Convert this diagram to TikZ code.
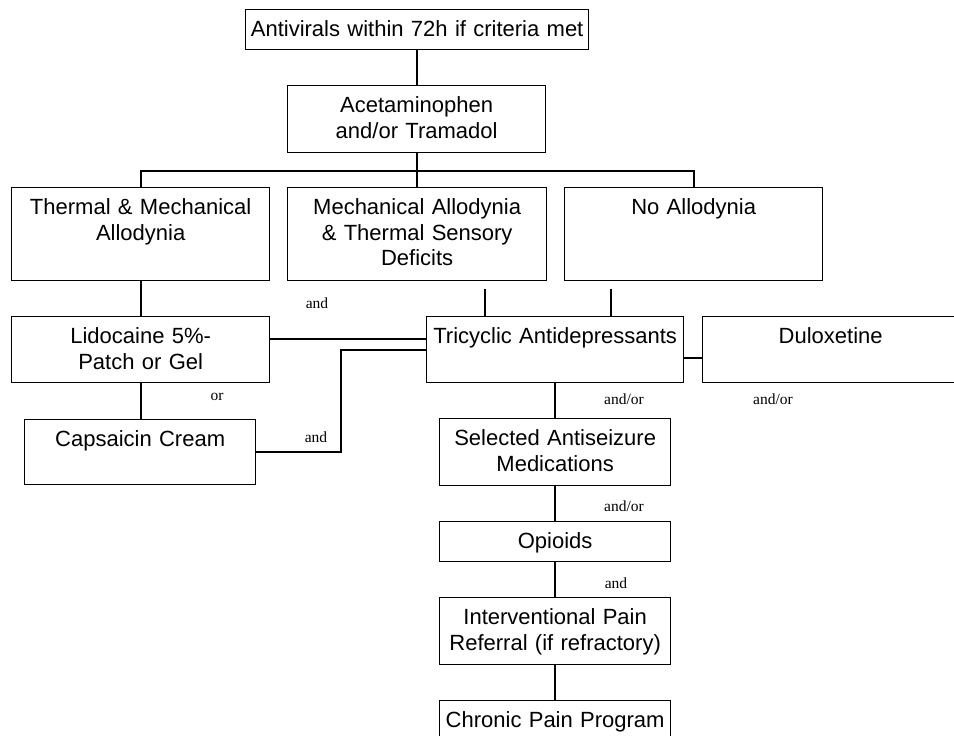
\documentclass[tikz,border=0pt]{standalone}
\usepackage{fontspec}
\setmainfont{Liberation Sans}
\newfontfamily\labelfont{Liberation Serif}
\usetikzlibrary{positioning}

\begin{document}
\begin{tikzpicture}[
    x=1pt, y=-1pt,
    box/.style 2 args={
        draw, rectangle,
        anchor=north west,
        inner sep=0pt,
        line width=1.3pt,
        align=center,
        text width=#1, minimum width=#1,
        text height=27pt, text depth=#2,
        font=\fontsize{22}{25.5}\selectfont
    },
    note/.style={
        anchor=base, inner sep=0pt,
        font=\labelfont\fontsize{15.5}{18}\selectfont
    },
    link/.style={line width=2pt}
]
\useasboundingbox (0,0) rectangle (954,736);

\node[box={343pt}{13pt}] (antiviral) at (245,9) {Antivirals within 72h if criteria met};
\node[box={258pt}{40pt}] (acet) at (287,85) {Acetaminophen\\and/or Tramadol};
\node[box={258pt}{66pt}] (thermal) at (11,187) {Thermal \& Mechanical\\Allodynia};
\node[box={259pt}{66pt}] (mech) at (287,187) {Mechanical Allodynia\\\& Thermal Sensory\\Deficits};
\node[box={258pt}{66pt}] (noallo) at (564,187) {No Allodynia};
\node[box={258pt}{39pt}] (lido) at (11,316) {Lidocaine 5\%-\\Patch or Gel};
\node[box={231pt}{38pt}] (caps) at (24,419) {Capsaicin Cream};
\node[box={257pt}{39pt}] (tca) at (426,316) {Tricyclic Antidepressants};
\node[box={256pt}{39pt}] (dulox) at (702,316) {Duloxetine};
\node[box={231pt}{40pt}] (seizure) at (439,418) {Selected Antiseizure\\Medications};
\node[box={231pt}{13pt}] (opioid) at (439,521) {Opioids};
\node[box={231pt}{40pt}] (interv) at (439,597) {Interventional Pain\\Referral (if refractory)};
\node[box={231pt}{13pt}] (chronic) at (439,700) {Chronic Pain Program};

\coordinate (mechdrop) at (485,289);
\coordinate (nodrop) at (611,289);

\draw[link] (acet.north) -- (acet.north |- antiviral.south);
\draw[link] (acet.south) -- ++(0,18) coordinate (bus);
\draw[link] (thermal.north) |- (bus) -| (noallo.north);
\draw[link] (bus) -- (bus |- mech.north);
\draw[link] (thermal.south) -- (lido.north);
\draw[link] (lido.south) -- (lido.south |- caps.north);
\draw[link] (mechdrop) -- (mechdrop |- tca.north);
\draw[link] (nodrop) -- (nodrop |- tca.north);
\draw[link] ([yshift=11pt]tca.west) -- ([yshift=11pt]tca.west -| lido.east);
\draw[link] (caps.east) -- ++(85,0) |- (tca.west);
\draw[link] ([yshift=-8pt]tca.east) -- ([yshift=-8pt]dulox.west);
\draw[link] (tca.south) -- (seizure.north);
\draw[link] (seizure.south) -- (opioid.north);
\draw[link] (opioid.south) -- (interv.north);
\draw[link] (interv.south) -- (chronic.north);

\node[note] (and1) at (317,308) {and};
\node[note] (or1) at (217,400) {or};
\node[note] (and2) at (316,442) {and};
\node[note] (andor1) at (624,404) {and/or};
\node[note] (andor2) at (773,404) {and/or};
\node[note] (andor3) at (624,511) {and/or};
\node[note] (and3) at (616,588) {and};
\end{tikzpicture}
\end{document}
